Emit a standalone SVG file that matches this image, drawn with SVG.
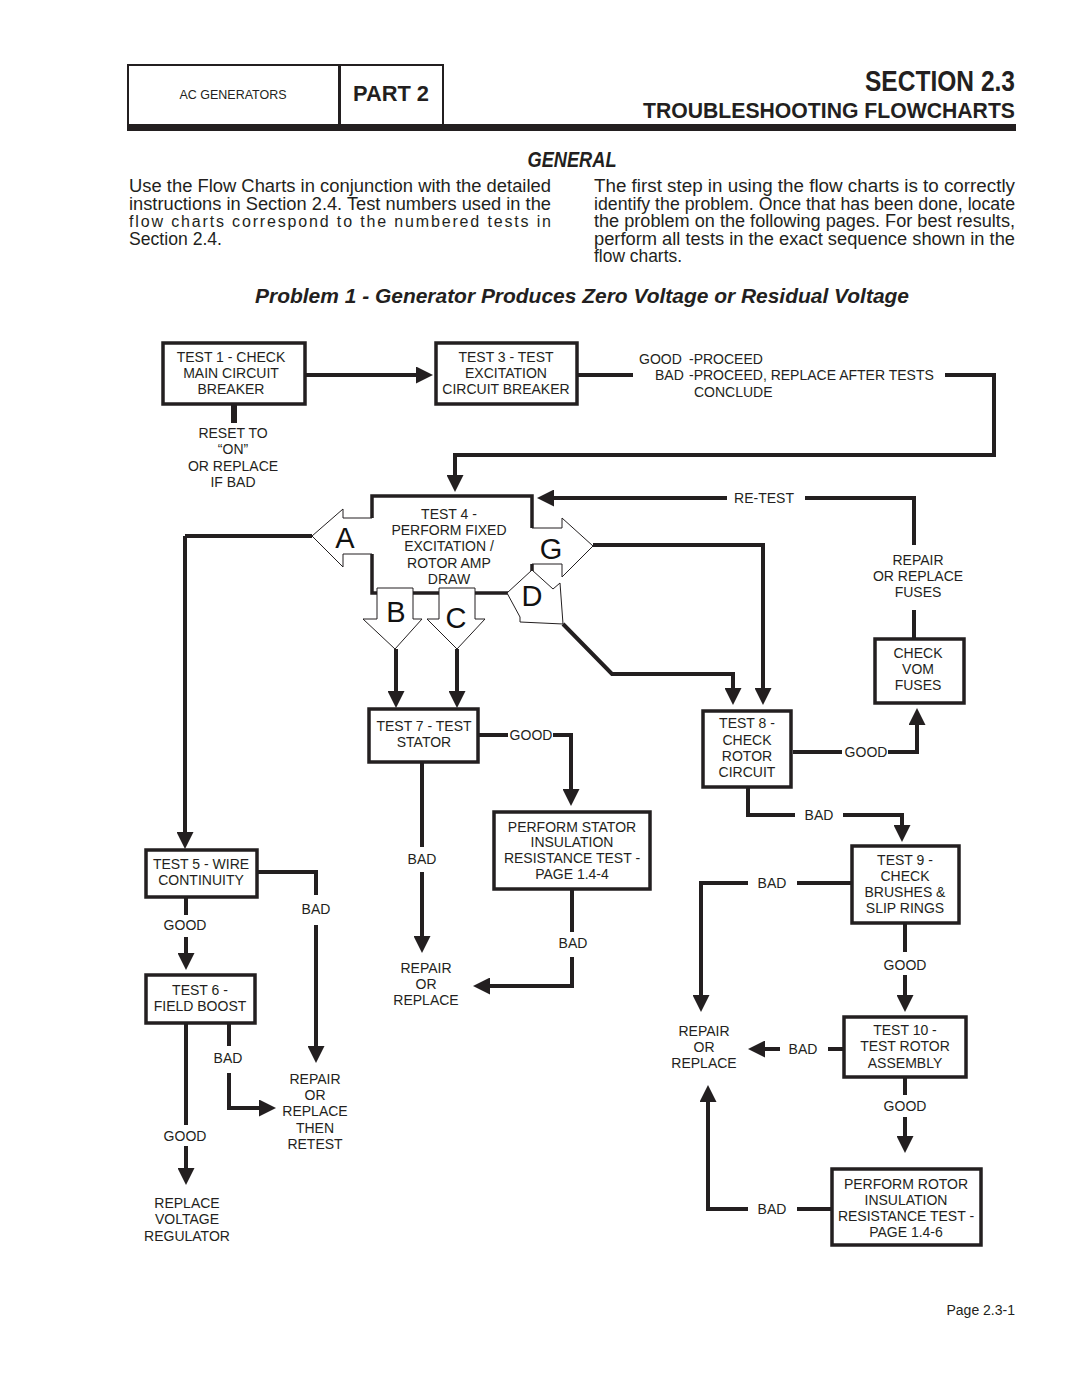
<svg xmlns="http://www.w3.org/2000/svg" width="1080" height="1397" viewBox="0 0 1080 1397">
<defs>
<style>
.box{fill:#fff;stroke:#231f20;stroke-width:3.5}
.ln{fill:none;stroke:#231f20;stroke-width:4}
.ar{marker-end:url(#ah)}
.fill{fill:#fff;stroke:none}
.out{fill:none;stroke:#231f20;stroke-width:1}
.t{font-family:"Liberation Sans",Arial,sans-serif;font-size:14px;fill:#231f20;text-anchor:middle}
.big{font-family:"Liberation Sans",Arial,sans-serif;font-size:29px;fill:#111;text-anchor:middle}
.p{font-family:"Liberation Sans",Arial,sans-serif;font-size:17.5px;fill:#231f20}
.h{font-family:"Liberation Sans",Arial,sans-serif;fill:#231f20;font-weight:bold}
</style>
<marker id="ah" markerUnits="userSpaceOnUse" markerWidth="17" markerHeight="17" viewBox="0 0 17 17" refX="11" refY="8.5" orient="auto">
<path d="M0,0 L17,8.5 L0,17 z" fill="#231f20"/>
</marker>
</defs>
<rect width="1080" height="1397" fill="#fff"/>

<g id="header">
<rect x="128" y="65" width="315" height="60" fill="none" stroke="#231f20" stroke-width="2"/>
<line x1="339.5" y1="65" x2="339.5" y2="125" stroke="#231f20" stroke-width="3"/>
<rect x="127" y="124" width="889" height="7" fill="#231f20"/>
<text class="h" x="233" y="99" font-size="13" text-anchor="middle" textLength="107" lengthAdjust="spacingAndGlyphs" style="font-weight:normal">AC GENERATORS</text>
<text class="h" x="391" y="101" font-size="22" text-anchor="middle" textLength="76" lengthAdjust="spacingAndGlyphs">PART 2</text>
<text class="h" x="1015" y="91" font-size="29" text-anchor="end" textLength="150" lengthAdjust="spacingAndGlyphs">SECTION 2.3</text>
<text class="h" x="1015" y="118" font-size="22" text-anchor="end" textLength="372" lengthAdjust="spacingAndGlyphs">TROUBLESHOOTING FLOWCHARTS</text>
<text class="h" x="572" y="167" font-size="22" font-style="italic" text-anchor="middle" textLength="89" lengthAdjust="spacingAndGlyphs">GENERAL</text>
</g>

<g id="intro">
<text class="p" x="129" y="192" textLength="422" lengthAdjust="spacingAndGlyphs">Use the  Flow Charts  in conjunction with the detailed</text>
<text class="p" x="129" y="209.5" textLength="422" lengthAdjust="spacingAndGlyphs">instructions in Section 2.4. Test numbers used in the</text>
<text class="p" x="129" y="227" font-size="16" textLength="422" lengthAdjust="spacing" style="font-size:16px">flow charts correspond to the numbered tests in</text>
<text class="p" x="129" y="244.5" textLength="93" lengthAdjust="spacingAndGlyphs">Section 2.4.</text>
<text class="p" x="594" y="192" textLength="421" lengthAdjust="spacingAndGlyphs">The first step in using the flow charts is to correctly</text>
<text class="p" x="594" y="209.5" textLength="421" lengthAdjust="spacingAndGlyphs">identify the problem. Once that has been done, locate</text>
<text class="p" x="594" y="227" textLength="421" lengthAdjust="spacingAndGlyphs">the problem on the following pages. For best results,</text>
<text class="p" x="594" y="244.5" textLength="421" lengthAdjust="spacingAndGlyphs">perform all tests in the exact sequence shown in the</text>
<text class="p" x="594" y="262" textLength="88" lengthAdjust="spacingAndGlyphs">flow charts.</text>
<text class="h" x="582" y="303" font-size="21" font-style="italic" text-anchor="middle" textLength="654" lengthAdjust="spacingAndGlyphs">Problem 1 - Generator Produces Zero Voltage or Residual Voltage</text>
</g>

<g id="connectors">
<path class="ln ar" d="M305,375 H427"/>
<path class="ln" d="M234,404 V423" style="stroke-width:6"/>
<path class="ln" d="M577,375 H633"/>
<path class="ln ar" d="M945,375 H994 V455 H455 V486"/>
<path class="ln ar" d="M727,498 H543"/>
<path class="ln" d="M805,498 H914 V545"/>
<path class="ln" d="M914,610 V638"/>
<path class="ln" d="M185,536 H312"/>
<path class="ln ar" d="M185,536 V843"/>
<path class="ln ar" d="M593,545 H763 V699"/>
<path class="ln ar" d="M563,624 L612,674 H733 V699"/>
<path class="ln ar" d="M396,649 V702"/>
<path class="ln ar" d="M457,649 V702"/>
<path class="ln ar" d="M478,735 H508 M553,735 H571 V800"/>
<path class="ln ar" d="M422,763 V847 M422,872 V947"/>
<path class="ln ar" d="M572,890 V932 M572,957 V986 H479"/>
<path class="ln ar" d="M793,752 H842 M888,752 H917 V714"/>
<path class="ln ar" d="M748,788 V815 H795 M843,815 H902 V836"/>
<path class="ln ar" d="M852,883 H797 M748,883 H701 V1006"/>
<path class="ln ar" d="M905,923 V952 M905,975 V1006"/>
<path class="ln ar" d="M844,1049 H828 M780,1049 H754"/>
<path class="ln ar" d="M905,1078 V1095 M905,1117 V1147"/>
<path class="ln ar" d="M832,1209 H797 M748,1209 H708 V1091"/>
<path class="ln ar" d="M258,872 H316 V895 M316,925 V1057"/>
<path class="ln ar" d="M186,897 V915 M186,937 V964"/>
<path class="ln ar" d="M229,1023 V1046 M229,1073 V1108 H270"/>
<path class="ln ar" d="M186,1023 V1125 M186,1146 V1179"/>
</g>

<g id="test1">
<rect class="box" x="163" y="343" width="142" height="61"/>
<text class="t" x="231" y="362">TEST 1 - CHECK</text>
<text class="t" x="231" y="378">MAIN CIRCUIT</text>
<text class="t" x="231" y="394">BREAKER</text>
</g>
<g id="reset">
<text class="t" x="233" y="438">RESET TO</text>
<text class="t" x="233" y="454">“ON”</text>
<text class="t" x="233" y="471">OR REPLACE</text>
<text class="t" x="233" y="487">IF BAD</text>
</g>
<g id="test3">
<rect class="box" x="436" y="343" width="141" height="61"/>
<text class="t" x="506" y="362">TEST 3 - TEST</text>
<text class="t" x="506" y="378">EXCITATION</text>
<text class="t" x="506" y="394">CIRCUIT BREAKER</text>
</g>
<g id="test3-result">
<text class="t" x="639" y="364" style="text-anchor:start">GOOD</text>
<text class="t" x="689" y="364" style="text-anchor:start">-PROCEED</text>
<text class="t" x="655" y="380" style="text-anchor:start">BAD</text>
<text class="t" x="689" y="380" style="text-anchor:start">-PROCEED, REPLACE AFTER TESTS</text>
<text class="t" x="694" y="397" style="text-anchor:start">CONCLUDE</text>
</g>
<g id="retest">
<text class="t" x="764" y="503">RE-TEST</text>
</g>

<g id="test4">
<rect class="box" x="372" y="496" width="160" height="97"/>
<polygon class="fill" points="374,518 343,518 343,509 312,536 343,567 343,554 374,554"/>
<polyline class="out" points="372,518 343,518 343,509 312,536 343,567 343,554 372,554"/>
<polygon class="fill" points="530,528 562,528 562,518 593,546 562,577 562,564 530,564"/>
<polyline class="out" points="532,528 562,528 562,518 593,546 562,577 562,564 532,564"/>
<polygon class="fill" points="507,593 532,570 553,589 560,583 563,624 520,622 520,617"/>
<polygon class="out" points="507,593 532,570 553,589 560,583 563,624 520,622 520,617"/>
<polygon class="fill" points="377,588 413,588 413,619 422,619 395,649 363,619 377,619"/>
<polygon class="out" points="377,588 413,588 413,619 422,619 395,649 363,619 377,619"/>
<polygon class="fill" points="439,588 475,588 475,619 485,619 457,649 427,619 439,619"/>
<polygon class="out" points="439,588 475,588 475,619 485,619 457,649 427,619 439,619"/>
<text class="big" x="345" y="548">A</text>
<text class="big" x="551" y="559">G</text>
<text class="big" x="396" y="622">B</text>
<text class="big" x="456" y="628">C</text>
<text class="big" x="532" y="606">D</text>
<text class="t" x="449" y="519">TEST 4 -</text>
<text class="t" x="449" y="535">PERFORM FIXED</text>
<text class="t" x="449" y="551">EXCITATION /</text>
<text class="t" x="449" y="568">ROTOR AMP</text>
<text class="t" x="449" y="584">DRAW</text>
</g>

<g id="fuses">
<text class="t" x="918" y="565">REPAIR</text>
<text class="t" x="918" y="581">OR REPLACE</text>
<text class="t" x="918" y="597">FUSES</text>
</g>
<g id="vom">
<rect class="box" x="875" y="639" width="89" height="64"/>
<text class="t" x="918" y="658">CHECK</text>
<text class="t" x="918" y="674">VOM</text>
<text class="t" x="918" y="690">FUSES</text>
</g>

<g id="test5">
<rect class="box" x="146" y="850" width="111" height="47"/>
<text class="t" x="201" y="869">TEST 5 - WIRE</text>
<text class="t" x="201" y="885">CONTINUITY</text>
</g>
<g id="test6">
<rect class="box" x="146" y="975" width="109" height="48"/>
<text class="t" x="200" y="995">TEST 6 -</text>
<text class="t" x="200" y="1011">FIELD BOOST</text>
</g>
<g id="labels-left">
<text class="t" x="316" y="914">BAD</text>
<text class="t" x="185" y="930">GOOD</text>
<text class="t" x="228" y="1063">BAD</text>
<text class="t" x="185" y="1141">GOOD</text>
</g>
<g id="repair-retest">
<text class="t" x="315" y="1084">REPAIR</text>
<text class="t" x="315" y="1100">OR</text>
<text class="t" x="315" y="1116">REPLACE</text>
<text class="t" x="315" y="1133">THEN</text>
<text class="t" x="315" y="1149">RETEST</text>
</g>
<g id="replace-vr">
<text class="t" x="187" y="1208">REPLACE</text>
<text class="t" x="187" y="1224">VOLTAGE</text>
<text class="t" x="187" y="1241">REGULATOR</text>
</g>

<g id="test7">
<rect class="box" x="369" y="709" width="109" height="53"/>
<text class="t" x="424" y="731">TEST 7 - TEST</text>
<text class="t" x="424" y="747">STATOR</text>
</g>
<g id="labels-mid">
<text class="t" x="531" y="740">GOOD</text>
<text class="t" x="422" y="864">BAD</text>
<text class="t" x="573" y="948">BAD</text>
</g>
<g id="stator-ins">
<rect class="box" x="494" y="812" width="156" height="77"/>
<text class="t" x="572" y="832">PERFORM STATOR</text>
<text class="t" x="572" y="847">INSULATION</text>
<text class="t" x="572" y="863">RESISTANCE TEST -</text>
<text class="t" x="572" y="879">PAGE 1.4-4</text>
</g>
<g id="repair-mid">
<text class="t" x="426" y="973">REPAIR</text>
<text class="t" x="426" y="989">OR</text>
<text class="t" x="426" y="1005">REPLACE</text>
</g>

<g id="test8">
<rect class="box" x="703" y="711" width="88" height="76"/>
<text class="t" x="747" y="728">TEST 8 -</text>
<text class="t" x="747" y="745">CHECK</text>
<text class="t" x="747" y="761">ROTOR</text>
<text class="t" x="747" y="777">CIRCUIT</text>
</g>
<g id="labels-right">
<text class="t" x="866" y="757">GOOD</text>
<text class="t" x="819" y="820">BAD</text>
<text class="t" x="772" y="888">BAD</text>
<text class="t" x="905" y="970">GOOD</text>
<text class="t" x="803" y="1054">BAD</text>
<text class="t" x="905" y="1111">GOOD</text>
<text class="t" x="772" y="1214">BAD</text>
</g>
<g id="test9">
<rect class="box" x="852" y="846" width="107" height="77"/>
<text class="t" x="905" y="865">TEST 9 -</text>
<text class="t" x="905" y="881">CHECK</text>
<text class="t" x="905" y="897">BRUSHES &amp;</text>
<text class="t" x="905" y="913">SLIP RINGS</text>
</g>
<g id="test10">
<rect class="box" x="844" y="1017" width="122" height="60"/>
<text class="t" x="905" y="1035">TEST 10 -</text>
<text class="t" x="905" y="1051">TEST ROTOR</text>
<text class="t" x="905" y="1068">ASSEMBLY</text>
</g>
<g id="repair-right">
<text class="t" x="704" y="1036">REPAIR</text>
<text class="t" x="704" y="1052">OR</text>
<text class="t" x="704" y="1068">REPLACE</text>
</g>
<g id="rotor-ins">
<rect class="box" x="832" y="1169" width="149" height="76"/>
<text class="t" x="906" y="1189">PERFORM ROTOR</text>
<text class="t" x="906" y="1205">INSULATION</text>
<text class="t" x="906" y="1221">RESISTANCE TEST -</text>
<text class="t" x="906" y="1237">PAGE 1.4-6</text>
</g>

<g id="footer">
<text class="t" x="1015" y="1315" style="text-anchor:end">Page 2.3-1</text>
</g>
</svg>
